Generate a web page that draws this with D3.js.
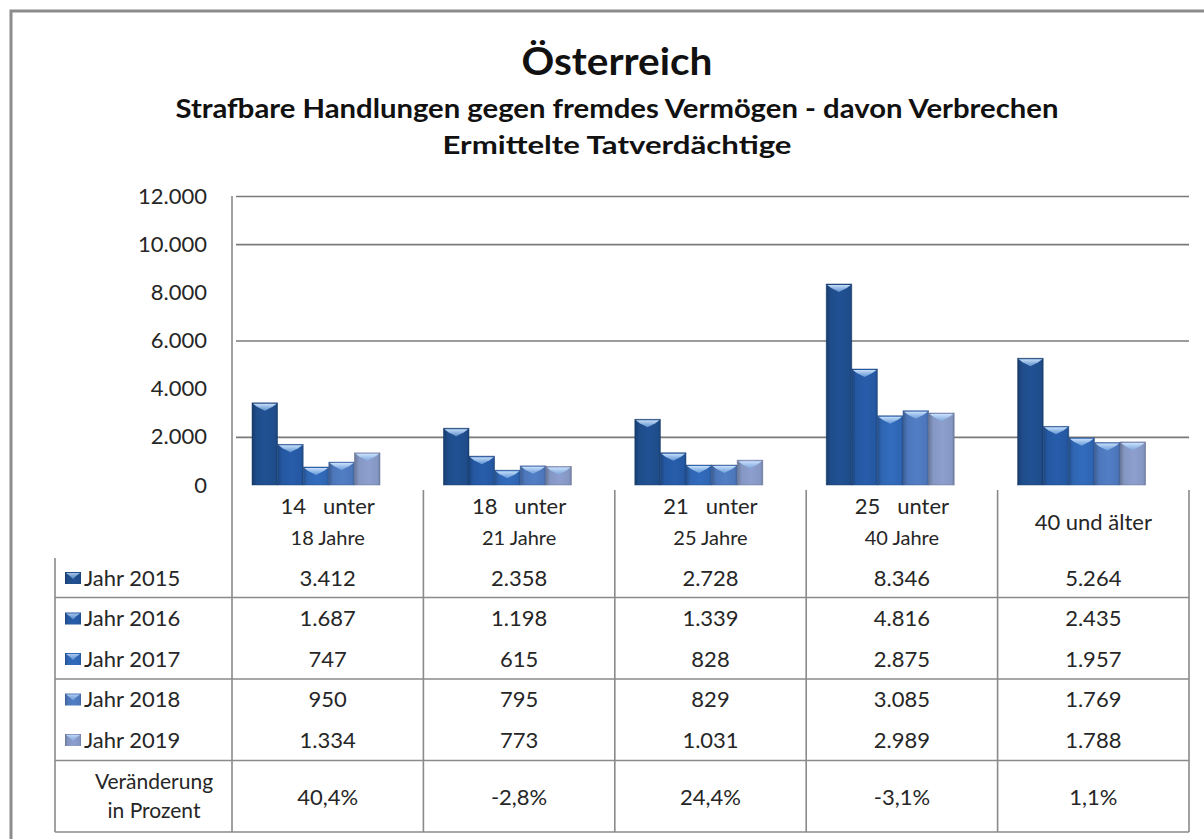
<!DOCTYPE html>
<html lang="de">
<head>
<meta charset="utf-8">
<script src="https://cdn.jsdelivr.net/npm/d3@7"></script>
<style>
  html, body { margin: 0; padding: 0; background: #fff; }
  svg { display: block; font-family: Lato, "Open Sans", sans-serif; }
</style>
</head>
<body>
<svg id="chart" width="1204" height="839"></svg>
<script>
// Age groups (two header lines each) and suspects per year
const categories = ["14 unter 18", "18 unter 21", "21 unter 25", "25 unter 40", "40 und älter"];
const categoryLines = [["14   unter", "18 Jahre"], ["18   unter", "21 Jahre"], ["21   unter", "25 Jahre"], ["25   unter", "40 Jahre"], ["40 und älter"]];
const years = ["Jahr 2015", "Jahr 2016", "Jahr 2017", "Jahr 2018", "Jahr 2019"];
const values2015 = [3412, 2358, 2728, 8346, 5264];
const values2016 = [1687, 1198, 1339, 4816, 2435];
const values2017 = [747, 615, 828, 2875, 1957];
const values2018 = [950, 795, 829, 3085, 1769];
const values2019 = [1334, 773, 1031, 2989, 1788];
const changeLabels = ["40,4%", "-2,8%", "24,4%", "-3,1%", "1,1%"];
const yTicks = [0, 2000, 4000, 6000, 8000, 10000, 12000];
const gridValues = [2000, 6000, 10000, 12000];

const series = [values2015, values2016, values2017, values2018, values2019];
const yearColors = ["#1f4d8b", "#2558a2", "#2f66b3", "#4d77bb", "#8597c3"];

const de = d3.formatLocale({ decimal: ",", thousands: ".", grouping: [3], currency: ["", " €"] });
const fmt = de.format(",d");

const svg = d3.select("#chart");
const plot = { left: 232, right: 1189, top: 196, bottom: 485 };
const table = { left: 55, bottom: 832 };
const ink = "#262626";

const x0 = d3.scaleBand().domain(categories).range([plot.left, plot.right]);
const x1 = d3.scaleBand().domain(years).range([20, 148]);
const y = d3.scaleLinear().domain([0, 12000]).range([plot.bottom, plot.top]);

// gradients for bevelled columns
const defs = svg.append("defs");
yearColors.forEach((c, i) => {
  const g = defs.append("linearGradient").attr("id", "col" + i).attr("x1", 0).attr("x2", 1).attr("y1", 0).attr("y2", 0);
  const base = d3.color(c);
  g.append("stop").attr("offset", 0).attr("stop-color", base.darker(0.7));
  g.append("stop").attr("offset", 0.18).attr("stop-color", base);
  g.append("stop").attr("offset", 0.55).attr("stop-color", base.brighter(0.15));
  g.append("stop").attr("offset", 0.9).attr("stop-color", base);
  g.append("stop").attr("offset", 1).attr("stop-color", base.darker(0.5));
});
const capGrad = defs.append("linearGradient").attr("id", "cap").attr("x1", 0).attr("x2", 0).attr("y1", 0).attr("y2", 1);
capGrad.append("stop").attr("offset", 0).attr("stop-color", "#cfe6ff").attr("stop-opacity", 0.95);
capGrad.append("stop").attr("offset", 1).attr("stop-color", "#7fb0e6").attr("stop-opacity", 0.7);

// outer frame
svg.append("path").attr("d", "M11,839 V11 H1204").attr("fill", "none").attr("stroke", "#8c8c8c").attr("stroke-width", 3);

// titles
const titles = [
  { text: "Österreich", size: 38, y: 75, len: 191 },
  { text: "Strafbare Handlungen gegen fremdes Vermögen - davon Verbrechen", size: 26, y: 118, len: 883 },
  { text: "Ermittelte Tatverdächtige", size: 25, y: 154, len: 349 }
];
svg.selectAll("text.title").data(titles).join("text")
  .attr("class", "title")
  .attr("x", 617).attr("y", d => d.y)
  .attr("text-anchor", "middle")
  .attr("font-weight", "bold")
  .attr("font-size", d => d.size)
  .attr("fill", "#111")
  .attr("textLength", d => d.len)
  .attr("lengthAdjust", "spacingAndGlyphs")
  .text(d => d.text);

// gridlines with short outer ticks
svg.append("g")
  .attr("transform", `translate(${plot.left},0)`)
  .call(d3.axisLeft(y).tickValues(gridValues).tickSize(-(plot.right - plot.left)).tickFormat(""))
  .call(g => g.select(".domain").remove())
  .call(g => g.selectAll(".tick line").attr("x1", 4).attr("stroke", "#7a7a7a").attr("stroke-width", 1.6));

// y axis labels
svg.append("g")
  .attr("transform", `translate(${plot.left - 25},0)`)
  .call(d3.axisLeft(y).tickValues(yTicks).tickSize(0).tickPadding(0).tickFormat(fmt))
  .call(g => g.select(".domain").remove())
  .call(g => g.selectAll("text").attr("font-size", 22).attr("fill", ink).attr("font-family", "Lato, sans-serif"));

// columns
const groups = svg.append("g").selectAll("g").data(categories).join("g")
  .attr("transform", d => `translate(${x0(d)},0)`);
const bars = groups.selectAll("g").data((d, ci) => years.map((yr, si) => ({ yr, si, v: series[si][ci] })))
  .join("g");
bars.append("rect")
  .attr("x", d => x1(d.yr)).attr("width", x1.bandwidth())
  .attr("y", d => y(d.v)).attr("height", d => y(0) - y(d.v))
  .attr("fill", d => `url(#col${d.si})`)
  .attr("stroke", d => d3.color(yearColors[d.si]).darker(0.8))
  .attr("stroke-opacity", 0.6).attr("stroke-width", 0.8);
bars.append("path")
  .attr("d", d => {
    const a = x1(d.yr), w = x1.bandwidth(), t = y(d.v);
    return `M${a + 1},${t + 1} H${a + w - 1} L${a + w - 5},${t + 4} L${a + w / 2},${t + 8} L${a + 5},${t + 4} Z`;
  })
  .attr("fill", "url(#cap)");

// data table lines
const rowY = d3.scalePoint().domain(years).range([578, 740]);
const lines = svg.append("g").attr("stroke", "#8a8a8a").attr("stroke-width", 1.6).attr("fill", "none");
lines.append("line").attr("x1", plot.left).attr("x2", plot.left).attr("y1", plot.top).attr("y2", table.bottom);
lines.selectAll("line.sep").data(categories).join("line").attr("class", "sep")
  .attr("x1", d => x0(d) + x0.bandwidth()).attr("x2", d => x0(d) + x0.bandwidth())
  .attr("y1", plot.bottom + 5).attr("y2", table.bottom);
lines.append("line").attr("x1", table.left).attr("x2", table.left).attr("y1", 558).attr("y2", table.bottom);
const rowRules = [597.5, 679, 760.5, table.bottom];
lines.selectAll("line.row").data(rowRules).join("line").attr("class", "row")
  .attr("x1", table.left).attr("x2", plot.right).attr("y1", d => d).attr("y2", d => d);

// category headers
const headers = svg.append("g").attr("font-size", 21).attr("fill", ink).attr("text-anchor", "middle");
headers.selectAll("text").data(categories).join("text")
  .attr("x", d => x0(d) + x0.bandwidth() / 2)
  .attr("y", (d, i) => categoryLines[i].length === 1 ? 530 : 514)
  .attr("xml:space", "preserve").style("white-space", "pre")
  .each(function (d, i) {
    d3.select(this).selectAll("tspan").data(categoryLines[i]).join("tspan")
      .attr("x", x0(d) + x0.bandwidth() / 2)
      .attr("dy", (t, j) => j === 0 ? 0 : 31)
      .attr("font-size", (t, j) => j === 0 ? 22 : 20)
      .text(t => t);
  });

// legend keys and row labels
const rows = svg.append("g").selectAll("g").data(years).join("g")
  .attr("transform", d => `translate(0,${rowY(d)})`);
rows.append("rect").attr("x", 65).attr("y", -6).attr("width", 16).attr("height", 12)
  .attr("fill", (d, i) => `url(#col${i})`);
rows.append("path").attr("d", "M66,-5 H80 L76,-2 L73,1 L70,-2 Z").attr("fill", "url(#cap)").attr("opacity", 0.8);
rows.append("text").attr("x", 84).attr("dy", "0.36em").attr("font-size", 22).attr("fill", ink).text(d => d);
rows.selectAll("text.val").data((d, si) => categories.map((c, ci) => ({ c, v: series[si][ci] })))
  .join("text").attr("class", "val")
  .attr("x", d => x0(d.c) + x0.bandwidth() / 2)
  .attr("dy", "0.36em").attr("text-anchor", "middle")
  .attr("font-size", 22).attr("fill", ink)
  .text(d => fmt(d.v));

// change row
const change = svg.append("g").attr("font-size", 21).attr("fill", ink).attr("text-anchor", "middle");
change.append("text").attr("x", 154).attr("y", 789).text("Veränderung");
change.append("text").attr("x", 154).attr("y", 818).text("in Prozent");
change.selectAll("text.pct").data(categories).join("text").attr("class", "pct")
  .attr("x", d => x0(d) + x0.bandwidth() / 2).attr("y", 797).attr("dy", "0.36em")
  .attr("font-size", 22)
  .text((d, i) => changeLabels[i]);
</script>
</body>
</html>
